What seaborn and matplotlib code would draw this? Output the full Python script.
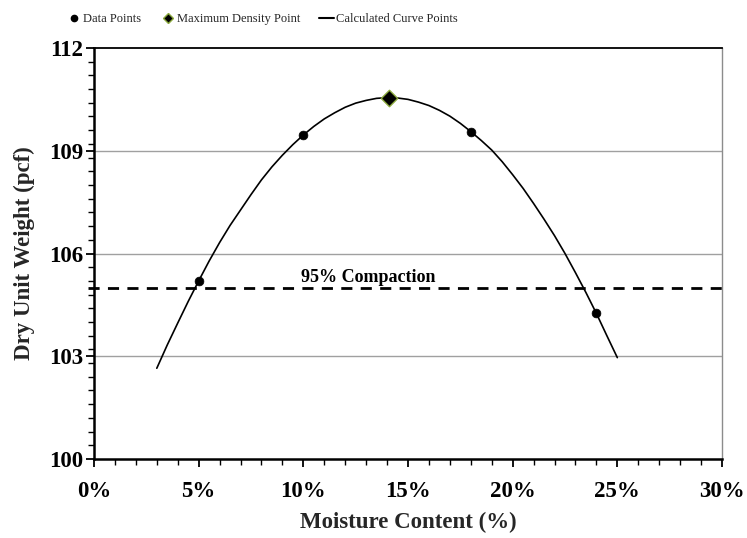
import matplotlib
matplotlib.use("Agg")
import matplotlib.pyplot as plt
from matplotlib.lines import Line2D
from matplotlib.ticker import FixedLocator, FuncFormatter, MultipleLocator
import numpy as np
import pandas as pd
import seaborn as sns

# ---- data ----
data_moisture = [5, 10, 18, 24]
data_density = [105.2, 109.45, 109.55, 104.25]

max_moisture = [14.1]
max_density = [110.53]

curve_moisture = [3.0, 3.5, 4.0, 4.5, 5.0, 5.5, 6.0, 6.5, 7.0, 7.5, 8.0, 8.5, 9.0, 9.5,
                  10.0, 10.5, 11.0, 11.5, 12.0, 12.5, 13.0, 13.5, 14.0, 14.5, 15.0, 15.5,
                  16.0, 16.5, 17.0, 17.5, 18.0, 18.5, 19.0, 19.5, 20.0, 20.5, 21.0, 21.5,
                  22.0, 22.5, 23.0, 23.5, 24.0, 24.5, 25.0]
curve_density = [102.65, 103.33, 103.97, 104.6, 105.2, 105.78, 106.32, 106.82, 107.27, 107.72,
                 108.15, 108.53, 108.87, 109.18, 109.46, 109.71, 109.93, 110.11, 110.27, 110.39,
                 110.47, 110.53, 110.55, 110.54, 110.5, 110.42, 110.32, 110.18, 110.01, 109.8,
                 109.56, 109.3, 109.02, 108.68, 108.3, 107.9, 107.46, 107.0, 106.52, 106.0,
                 105.44, 104.86, 104.25, 103.6, 102.96]

compaction_level = 105.0
compaction_label = "95% Compaction"

y_major_ticks = [100, 103, 106, 109, 112]
x_label = "Moisture Content (%)"
y_label = "Dry Unit Weight (pcf)"
legend_labels = ["Data Points", "Maximum Density Point", "Calculated Curve Points"]

# ---- style ----
sns.set_theme(style="ticks")
plt.rcParams["font.family"] = ["Liberation Serif", "DejaVu Serif"]

fig = plt.figure(figsize=(7.47, 5.38), dpi=100)
ax = fig.add_axes([94 / 747, 1 - 459 / 538, (722 - 94) / 747, (459 - 48) / 538])

curve_df = pd.DataFrame({"x": curve_moisture, "y": curve_density})
pts_df = pd.DataFrame({"x": data_moisture, "y": data_density})
max_df = pd.DataFrame({"x": max_moisture, "y": max_density})

# horizontal grid lines at inner major ticks
for yv in y_major_ticks[1:-1]:
    ax.axhline(yv, color="#a0a0a0", lw=1.0, zorder=0)

ax.plot([-0.3, 30], [compaction_level, compaction_level], color="black", lw=2.0,
        ls=(0, (4, 3)), zorder=1, clip_on=False)
ax.text(13.1, compaction_level + 0.17, compaction_label, ha="center", va="baseline",
        fontsize=13, fontweight="bold", color="black")

sns.lineplot(data=curve_df, x="x", y="y", ax=ax, color="black", lw=1.2,
             sort=False, estimator=None, zorder=3, legend=False)
sns.scatterplot(data=pts_df, x="x", y="y", ax=ax, color="black", s=40,
                edgecolor="black", linewidth=0.5, zorder=4, legend=False)
sns.scatterplot(data=max_df, x="x", y="y", ax=ax, marker="D", color="black", s=70,
                edgecolor="#8aa83c", linewidth=1.0, zorder=5, legend=False)

ax.set_xlim(0, 30)
ax.set_ylim(100, 112)
ax.xaxis.set_major_locator(MultipleLocator(5))
ax.xaxis.set_minor_locator(MultipleLocator(1))
ax.yaxis.set_major_locator(FixedLocator(y_major_ticks))
ax.yaxis.set_minor_locator(FixedLocator(list(np.arange(100, 112.01, 0.4))))
ax.xaxis.set_major_formatter(FuncFormatter(lambda v, p: f"{v:.0f}%"))
ax.yaxis.set_major_formatter(FuncFormatter(lambda v, p: f"{v:.0f}"))

ax.tick_params(axis="both", which="major", length=6, width=1.3, direction="out",
               labelsize=16.5, colors="black")
ax.tick_params(axis="x", which="major", pad=10)
ax.tick_params(axis="y", which="major", pad=2)
ax.tick_params(axis="both", which="minor", length=4, width=1.0, direction="out", colors="black")
for lab in ax.get_xticklabels() + ax.get_yticklabels():
    lab.set_fontweight("bold")

for s in ["left", "bottom"]:
    ax.spines[s].set_linewidth(1.8)
    ax.spines[s].set_color("black")
ax.spines["top"].set_linewidth(1.3)
ax.spines["top"].set_color("black")
ax.spines["right"].set_linewidth(1.0)
ax.spines["right"].set_color("#8c8c8c")

ax.set_xlabel(x_label, fontsize=16.5, fontweight="bold", labelpad=7)
ax.set_ylabel(y_label, fontsize=16.5, fontweight="bold", labelpad=9.5)

handles = [
    Line2D([], [], ls="none", marker="o", color="black", markersize=4.5),
    Line2D([], [], ls="none", marker="D", markerfacecolor="black",
           markeredgecolor="#8aa83c", markersize=5.5),
    Line2D([], [], color="black", lw=1.5),
]
fig.legend(handles, legend_labels, loc="center", bbox_to_anchor=(262 / 747, 1 - 19 / 538),
           ncol=3, frameon=False, fontsize=9, handlelength=1.2, handletextpad=0.15,
           columnspacing=1.5, borderpad=0.2)

fig.savefig("out.png", dpi=100)
